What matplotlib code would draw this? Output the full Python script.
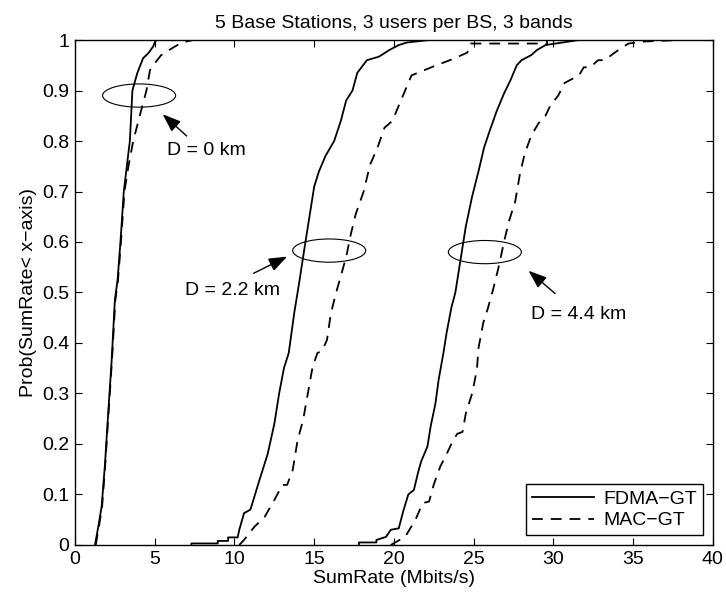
import matplotlib
matplotlib.use('Agg')
import matplotlib.pyplot as plt
from matplotlib.patches import Ellipse

plt.rcParams['font.family'] = ['Liberation Sans', 'DejaVu Sans']
plt.rcParams['font.size'] = 14

# CDF curves (x = SumRate in Mbits/s, y = probability)
fdma_d0_x = [1.25, 1.46, 1.67, 1.88, 2.08, 2.3, 2.5, 2.67, 2.85, 3.06, 3.44, 3.6, 3.9, 4.27, 4.6, 4.9, 5.0, 5.1, 5.8]
fdma_d0_y = [0, 0.036, 0.076, 0.16, 0.26, 0.366, 0.485, 0.525, 0.6, 0.70, 0.80, 0.90, 0.934, 0.964, 0.974, 0.987, 0.995, 1.0, 1.0]
mac_d0_x = [1.3, 1.5, 1.7, 1.9, 2.1, 2.32, 2.53, 2.7, 2.88, 3.1, 3.35, 3.65, 4.06, 4.48, 4.7, 4.9, 5.4, 6.15, 6.7, 7.4]
mac_d0_y = [0, 0.036, 0.076, 0.16, 0.26, 0.366, 0.485, 0.525, 0.6, 0.70, 0.75, 0.80, 0.85, 0.90, 0.94, 0.95, 0.97, 0.985, 0.995, 1.0]

fdma_d22_x = [7.3, 7.3, 8.95, 8.95, 9.6, 9.6, 10.2, 10.3, 10.6, 11.0, 11.56, 12.08, 12.5, 12.8, 13.1, 13.4, 13.75,
              14.06, 14.4, 14.7, 15.0, 15.3, 15.7, 16.25, 16.67, 17.0, 17.4, 17.7, 18.3, 19.06, 19.7, 20.3, 20.8, 22.2]
fdma_d22_y = [0, 0.003, 0.003, 0.008, 0.008, 0.015, 0.015, 0.03, 0.063, 0.07, 0.128, 0.18, 0.24, 0.30, 0.35, 0.38, 0.46,
              0.52, 0.59, 0.65, 0.71, 0.74, 0.77, 0.80, 0.84, 0.88, 0.90, 0.935, 0.96, 0.967, 0.98, 0.99, 0.995, 1.0]
mac_d22_x = [10.3, 10.6, 11.25, 11.9, 12.5, 13.0, 13.3, 13.65, 13.96, 14.3, 14.6, 14.9, 15.2, 15.5, 15.8, 16.04, 16.35,
             17.0, 17.3, 17.6, 18.1, 18.5, 18.96, 19.4, 19.9, 20.3, 20.7, 21.1, 21.5, 22.5, 23.5, 24.6, 24.8, 29.6, 29.6]
mac_d22_y = [0, 0.01, 0.036, 0.056, 0.089, 0.119, 0.119, 0.148, 0.208, 0.247, 0.30, 0.353, 0.38, 0.385, 0.406, 0.458, 0.497,
             0.57, 0.616, 0.655, 0.70, 0.753, 0.786, 0.826, 0.84, 0.87, 0.90, 0.93, 0.935, 0.948, 0.96, 0.975, 0.993, 0.993, 1.0]

fdma_d44_x = [17.8, 17.8, 18.9, 18.9, 19.5, 19.8, 20.3, 20.6, 20.9, 21.25, 21.5, 21.7, 22.1, 22.3, 22.6, 22.8, 23.1, 23.3,
              23.6, 23.85, 24.2, 24.5, 24.9, 25.3, 25.65, 26.0, 26.45, 26.9, 27.3, 27.7, 28.0, 28.6, 28.96, 29.5, 31.6]
fdma_d44_y = [0, 0.005, 0.005, 0.01, 0.016, 0.03, 0.033, 0.069, 0.10, 0.109, 0.142, 0.165, 0.195, 0.235, 0.28, 0.327, 0.38, 0.42,
              0.47, 0.50, 0.57, 0.63, 0.69, 0.74, 0.787, 0.82, 0.86, 0.894, 0.92, 0.95, 0.96, 0.97, 0.98, 0.99, 1.0]
mac_d44_x = [19.8, 20.7, 21.35, 21.8, 22.2, 22.5, 22.9, 23.3, 23.6, 23.96, 24.3, 24.5, 24.9, 25.2, 25.3, 25.6, 25.9, 26.25,
             26.56, 26.9, 27.2, 27.6, 27.9, 28.2, 28.6, 29.06, 29.5, 29.8, 30.3, 30.7, 31.6, 31.9, 32.3, 32.8, 33.2, 34.06,
             34.7, 35.7, 37.9]
mac_d44_y = [0, 0.016, 0.05, 0.083, 0.086, 0.12, 0.155, 0.18, 0.20, 0.22, 0.224, 0.26, 0.30, 0.347, 0.39, 0.44, 0.47, 0.51,
             0.55, 0.60, 0.64, 0.68, 0.735, 0.775, 0.81, 0.835, 0.85, 0.87, 0.89, 0.915, 0.93, 0.946, 0.946, 0.96, 0.96, 0.98,
             0.993, 0.997, 1.0]

# annotations: ellipse centre, label text/position, arrow tail -> head
ell_centres = [(4.02, 0.89), (15.94, 0.583), (25.7, 0.58)]
labels = ['D = 0 km', 'D = 2.2 km', 'D = 4.4 km']
label_pos = [(5.77, 0.781), (6.9, 0.503), (28.6, 0.457)]
arrow_tail = [(7.0, 0.81), (11.2, 0.538), (30.1, 0.498)]
arrow_head = [(5.5, 0.853), (13.3, 0.571), (28.44, 0.543)]

fig = plt.figure(figsize=(7.26, 5.99), dpi=100)
ax = fig.add_axes([0.1033, 0.0902, 0.8787, 0.843])

lw = 1.3
dash = (6, 4.4)
ax.plot(fdma_d0_x, fdma_d0_y, 'k-', lw=lw, label='FDMA\u2212GT')
ax.plot(mac_d0_x, mac_d0_y, 'k--', lw=lw, dashes=dash, label='MAC\u2212GT')
ax.plot(fdma_d22_x, fdma_d22_y, 'k-', lw=lw)
ax.plot(mac_d22_x, mac_d22_y, 'k--', lw=lw, dashes=dash)
ax.plot(fdma_d44_x, fdma_d44_y, 'k-', lw=lw)
ax.plot(mac_d44_x, mac_d44_y, 'k--', lw=lw, dashes=dash)

for c in ell_centres:
    ax.add_patch(Ellipse(c, 4.58, 0.046, fill=False, ec='black', lw=0.8))
for t, p in zip(labels, label_pos):
    ax.text(p[0], p[1], t, ha='left', va='center')
for t0, h0 in zip(arrow_tail, arrow_head):
    ax.annotate('', xy=h0, xytext=t0,
                arrowprops=dict(arrowstyle='-|>,head_length=0.8,head_width=0.3', color='black', lw=1.0,
                                shrinkA=0, shrinkB=0))

ax.set_xlim(0, 40)
ax.set_ylim(0, 1)
ax.set_xticks(range(0, 41, 5))
ax.set_yticks([i / 10 for i in range(11)])
ax.set_yticklabels(['0', '0.1', '0.2', '0.3', '0.4', '0.5', '0.6', '0.7', '0.8', '0.9', '1'])
ax.tick_params(direction='in', top=True, right=True, length=5, width=0.8, pad=4)
for s in ax.spines.values():
    s.set_linewidth(1.0)

ax.set_xlabel('SumRate (Mbits/s)', labelpad=2)
ax.set_ylabel('Prob(SumRate< x\u2212axis)', labelpad=4)
ax.set_title('5 Base Stations, 3 users per BS, 3 bands', fontsize=14, pad=9)

leg = ax.legend(loc='lower right', handlelength=3.2, fancybox=False, framealpha=1,
                edgecolor='black', borderaxespad=0.5, borderpad=0.3, labelspacing=0.2, handletextpad=0.5)
leg.get_frame().set_linewidth(1.0)

fig.savefig('out.png', dpi=100)
